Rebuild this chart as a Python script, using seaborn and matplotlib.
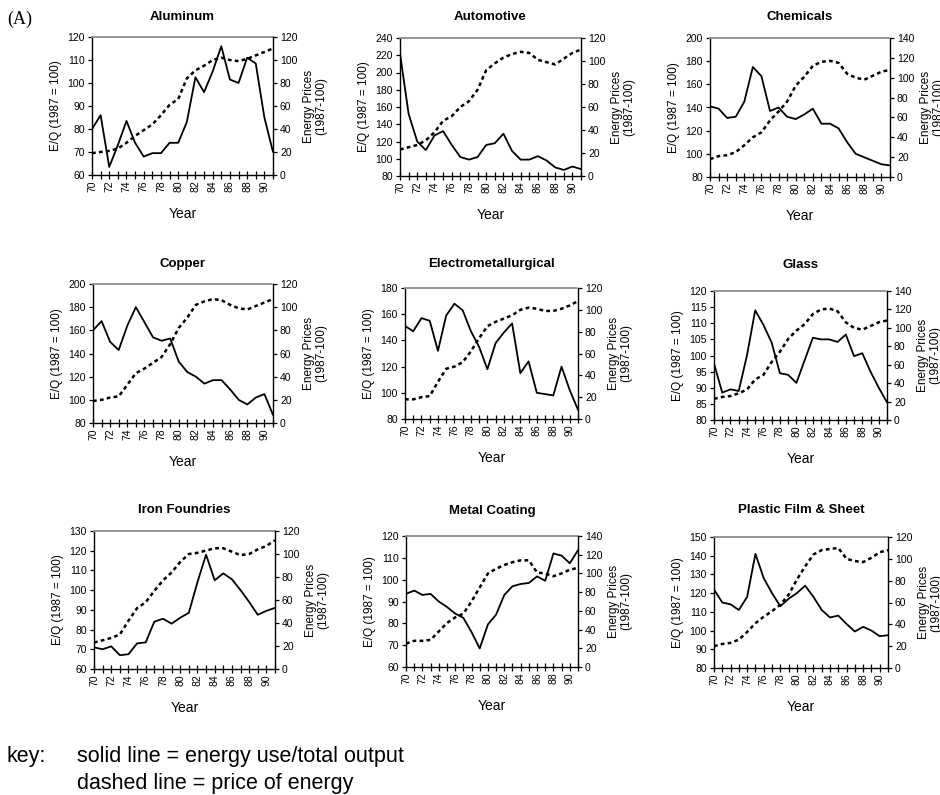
import matplotlib
matplotlib.use("Agg")
import matplotlib.pyplot as plt
import seaborn as sns

# ---------------- data ----------------
years = list(range(70, 92))

aluminum_eq = [80, 86, 63.5, 73, 83.5, 74, 68, 69.5, 69.5, 74, 74, 83, 102.5, 96, 105, 116,
               101.5, 100, 111, 108.5, 85, 70]
aluminum_price = [19, 20, 21, 23, 28, 34, 39, 44, 52, 61, 66, 84, 91, 95, 100, 102,
                  100, 99, 101, 104, 107, 110]

automotive_eq = [222, 152, 120, 110, 127, 132, 116, 102, 99, 102, 116, 118, 129, 109, 99, 99,
                 103, 98, 90, 87, 91, 88]
automotive_price = [23, 25, 27, 31, 38, 48, 52, 60, 65, 75, 92, 98, 103, 106, 108, 107,
                    101, 99, 97, 102, 107, 110]

chemicals_eq = [141, 139, 131, 132, 145, 175, 167, 137, 140, 132, 130, 134, 139, 126, 126, 122,
                110, 100, 97, 94, 91, 90]
chemicals_price = [18, 21, 22, 25, 32, 40, 45, 57, 66, 76, 92, 101, 112, 116, 117, 115,
                   104, 100, 98, 102, 106, 108]

copper_eq = [160, 168, 150, 143, 164, 180, 167, 154, 151, 153, 133, 124, 120, 114, 117, 117,
             109, 100, 96, 102, 105, 87]
copper_price = [19, 20, 22, 23, 33, 43, 47, 52, 57, 68, 82, 91, 102, 105, 107, 106,
                102, 99, 98, 101, 104, 107]

electro_eq = [151, 147, 157, 155, 132, 159, 168, 163, 147, 135, 118, 138, 146, 153, 115, 124,
              100, 99, 98, 120, 102, 87]
electro_price = [18, 18, 20, 21, 34, 46, 48, 52, 62, 74, 85, 89, 92, 95, 100, 102,
                 101, 99, 99, 101, 104, 108]

glass_eq = [97.5, 88.5, 89.5, 89, 100, 114, 109.5, 104, 94.5, 94, 91.5, 98.5, 105.5, 105, 105, 104.2,
            106.5, 99.8, 100.7, 95, 90, 85.5]
glass_price = [23, 25, 26, 29, 33, 44, 49, 63, 74, 88, 97, 104, 115, 120, 121, 118,
               106, 100, 98, 102, 106, 108]

iron_eq = [71, 70, 71.5, 67, 67.5, 73, 73.5, 84, 85.5, 83, 86, 88.5, 104, 118, 105, 108.5,
           105.5, 100, 94, 87.5, 89.5, 91]
iron_price = [23, 25, 27, 30, 42, 53, 58, 68, 77, 84, 93, 100, 101, 103, 105, 105,
              102, 99, 100, 104, 107, 112]

metal_eq = [93.5, 95, 93, 93.5, 90, 87.5, 84.5, 82.5, 76, 68.5, 79.5, 84, 93, 97, 98, 98.5,
            101.5, 99.5, 112, 111, 107.5, 113.5]
metal_price = [25, 28, 28, 29, 38, 47, 53, 57, 70, 85, 100, 105, 109, 112, 114, 114,
               101, 100, 97, 100, 104, 106]

plastic_eq = [122, 115, 114, 111, 118, 141, 128, 120, 113, 117, 120, 124, 118, 111, 107, 108,
              103.5, 99.5, 102, 100, 97, 97.5]
plastic_price = [20, 22, 23, 26, 33, 41, 47, 52, 58, 67, 81, 93, 104, 108, 109, 110,
                 100, 98, 97, 101, 106, 108]

titles = ["Aluminum", "Automotive", "Chemicals", "Copper", "Electrometallurgical",
          "Glass", "Iron Foundries", "Metal Coating", "Plastic Film & Sheet"]
eq_series = [aluminum_eq, automotive_eq, chemicals_eq, copper_eq, electro_eq,
             glass_eq, iron_eq, metal_eq, plastic_eq]
price_series = [aluminum_price, automotive_price, chemicals_price, copper_price, electro_price,
                glass_price, iron_price, metal_price, plastic_price]
left_ranges = [(60, 120, 10), (80, 240, 20), (80, 200, 20), (80, 200, 20), (80, 180, 20),
               (80, 120, 5), (60, 130, 10), (60, 120, 10), (80, 150, 10)]
right_ranges = [(0, 120, 20), (0, 120, 20), (0, 140, 20), (0, 120, 20), (0, 120, 20),
                (0, 140, 20), (0, 120, 20), (0, 140, 20), (0, 120, 20)]

# ---------------- layout (pixels: left, top, right, bottom, title centre y) ----------------
W, H = 940, 795
boxes = [(92, 37, 273, 175, 16), (400, 38, 581, 176, 16), (710, 38, 890, 177, 16),
         (93, 284, 273, 423, 263), (405, 288, 578, 419, 263), (714, 291, 887, 420, 264),
         (94, 531, 275, 669, 509), (406, 536, 578, 667, 510), (714, 537, 888, 668, 509)]

sns.set_theme(style="ticks")
plt.rcParams['font.family'] = ['Liberation Sans', 'DejaVu Sans']
plt.rcParams['axes.linewidth'] = 1.0
for key in ("text.color", "axes.labelcolor", "xtick.color", "ytick.color", "axes.edgecolor"):
    plt.rcParams[key] = "black"

fig = plt.figure(figsize=(W / 100, H / 100), dpi=100)
fig.patch.set_facecolor("white")

for title, eq, price, lr, rr, box in zip(titles, eq_series, price_series,
                                         left_ranges, right_ranges, boxes):
    pl, pt, pr, pb, ty = box
    wpx, hpx = pr - pl, pb - pt
    ax = fig.add_axes([pl / W, 1 - pb / H, wpx / W, hpx / H])
    ax2 = ax.twinx()

    sns.lineplot(x=years, y=eq, ax=ax, color="black", lw=1.3)
    sns.lineplot(x=years, y=price, ax=ax2, color="black", lw=1.8,
                 linestyle=(0, (1.5, 1.3)))

    ax.set_xlim(70, 91)
    ax.set_ylim(lr[0], lr[1])
    ax.set_yticks(list(range(lr[0], lr[1] + 1, lr[2])))
    ax2.set_ylim(rr[0], rr[1])
    ax2.set_yticks(list(range(rr[0], rr[1] + 1, rr[2])))
    ax.set_xticks(list(range(70, 91, 2)))
    ax.set_xticks(years, minor=True)
    ax.set_xticklabels([str(y) for y in range(70, 91, 2)], rotation=90)

    ax.tick_params(axis="x", which="both", direction="inout", length=6, width=0.9,
                   labelsize=7.5, pad=1, colors="black")
    ax.tick_params(axis="y", direction="out", length=3, width=0.9, labelsize=7.5,
                   pad=2, colors="black")
    ax2.tick_params(axis="y", direction="out", length=3, width=0.9, labelsize=7.5,
                    pad=2, colors="black")

    for s in ("left", "bottom"):
        ax.spines[s].set_color("black")
        ax.spines[s].set_linewidth(1.0)
    ax.spines["right"].set_visible(False)
    ax.spines["top"].set_visible(True)
    ax.spines["top"].set_color("0.55")
    ax.spines["top"].set_linestyle((0, (1, 1)))
    ax.spines["top"].set_linewidth(1.3)
    for s in ("top", "left", "bottom"):
        ax2.spines[s].set_visible(False)
    ax2.spines["right"].set_visible(True)
    ax2.spines["right"].set_color("black")
    ax2.spines["right"].set_linewidth(1.0)

    ax.set_xlabel("Year", fontsize=10)
    ax.xaxis.set_label_coords(0.5, -32 / hpx)
    ax.set_ylabel("E/Q (1987 = 100)", fontsize=8.5)
    ax.yaxis.set_label_coords(-30 / wpx, 0.5)
    ax2.set_ylabel("Energy Prices\n(1987-100)", fontsize=8.5, linespacing=1.0)
    ax2.yaxis.set_label_coords(1 + 30 / wpx, 0.5)

    pad_px = pt - (ty + 4)
    ax.set_title(title, fontsize=9.5, fontweight="bold", pad=pad_px * 0.72)

fig.text(7 / W, 1 - 24 / H, "(A)", family=["Liberation Serif", "DejaVu Serif"],
         fontsize=13, va="baseline", ha="left")
fig.text(7 / W, 1 - 762 / H, "key:", fontsize=15.5, va="baseline", ha="left")
fig.text(77 / W, 1 - 762 / H, "solid line = energy use/total output", fontsize=15.5,
         va="baseline", ha="left")
fig.text(77 / W, 1 - 789 / H, "dashed line = price of energy", fontsize=15.5,
         va="baseline", ha="left")

fig.savefig("out.png", dpi=100, facecolor="white")
